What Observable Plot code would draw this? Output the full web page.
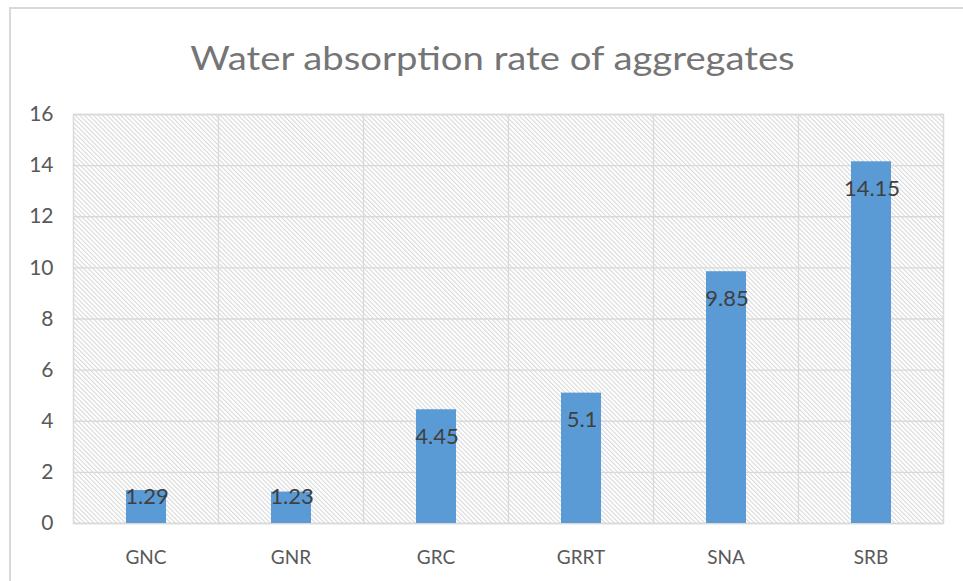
<!DOCTYPE html>
<html>
<head>
<meta charset="utf-8">
<script src="https://cdn.jsdelivr.net/npm/d3@7"></script>
<script src="https://cdn.jsdelivr.net/npm/@observablehq/plot@0.6"></script>
<style>
  html, body { margin: 0; padding: 0; background: #fff; }
  #wrap { position: relative; width: 963px; height: 581px; overflow: hidden; font-family: Lato, "Open Sans", sans-serif; }
  #border { position: absolute; left: 9px; top: 7px; width: 2000px; height: 2000px; border: 2px solid #d9d9d9; box-sizing: border-box; }
  #title { position: absolute; left: 11px; width: 963px; top: 35px; text-align: center; font-size: 33px; color: #757575; line-height: 44px; transform: scaleX(1.16); transform-origin: 481.5px 0; }
  #chart { position: absolute; left: 0; top: 0; }
</style>
</head>
<body>
<div id="wrap">
  <div id="border"></div>
  <div id="chart"></div>
  <div id="title">Water absorption rate of aggregates</div>
</div>
<script>
const categories = ["GNC", "GNR", "GRC", "GRRT", "SNA", "SRB"];
const values = [1.29, 1.23, 4.45, 5.1, 9.85, 14.15];
const valueLabels = ["1.29", "1.23", "4.45", "5.1", "9.85", "14.15"];
const yTicks = [0, 2, 4, 6, 8, 10, 12, 14, 16];

const data = categories.map((c, i) => ({cat: c, value: values[i], label: valueLabels[i]}));

const plot = Plot.plot({
  width: 963,
  height: 581,
  marginTop: 114,
  marginBottom: 58,
  marginLeft: 73,
  marginRight: 20,
  style: {fontFamily: "Lato, 'Open Sans', sans-serif", fontSize: "19px", color: "#595959", background: "transparent"},
  x: {domain: categories, padding: 0, label: null},
  y: {domain: [0, 16], label: null},
  marks: [
    Plot.frame({fill: "url(#hatch)", stroke: "none"}),
    Plot.gridY(yTicks, {stroke: "#d9d9d9", strokeOpacity: 1, strokeWidth: 1.3}),
    Plot.tickX(categories.slice(1), {x: d => d, stroke: "#d9d9d9", strokeWidth: 1.3, dx: -72.5}),
    Plot.frame({stroke: "#d9d9d9", strokeWidth: 1.5}),
    Plot.axisY(yTicks, {tickSize: 0, tickPadding: 20, fontSize: 21, fill: "#595959", label: null}),
    Plot.axisX({tickSize: 0, tickPadding: 27, fontSize: 19, fill: "#595959", label: null}),
    Plot.barY(data, {x: "cat", y: "value", fill: "#5b9bd5", insetLeft: 53, insetRight: 52}),
    Plot.text(data, {x: "cat", y: d => Math.max(d.value - 1.06, 1.02), text: "label", fill: "#404040", fontSize: 22, dx: 1})
  ]
});

const defs = d3.select(plot).insert("defs", ":first-child");
const pat = defs.append("pattern")
  .attr("id", "hatch")
  .attr("patternUnits", "userSpaceOnUse")
  .attr("width", 3.2)
  .attr("height", 3.2)
  .attr("patternTransform", "rotate(-45)");
pat.append("rect").attr("width", 3.2).attr("height", 3.2).attr("fill", "#ffffff");
pat.append("line").attr("x1", 0.5).attr("y1", 0).attr("x2", 0.5).attr("y2", 3.2)
  .attr("stroke", "#d6d6d6").attr("stroke-width", 1);

document.getElementById("chart").appendChild(plot);
</script>
</body>
</html>
